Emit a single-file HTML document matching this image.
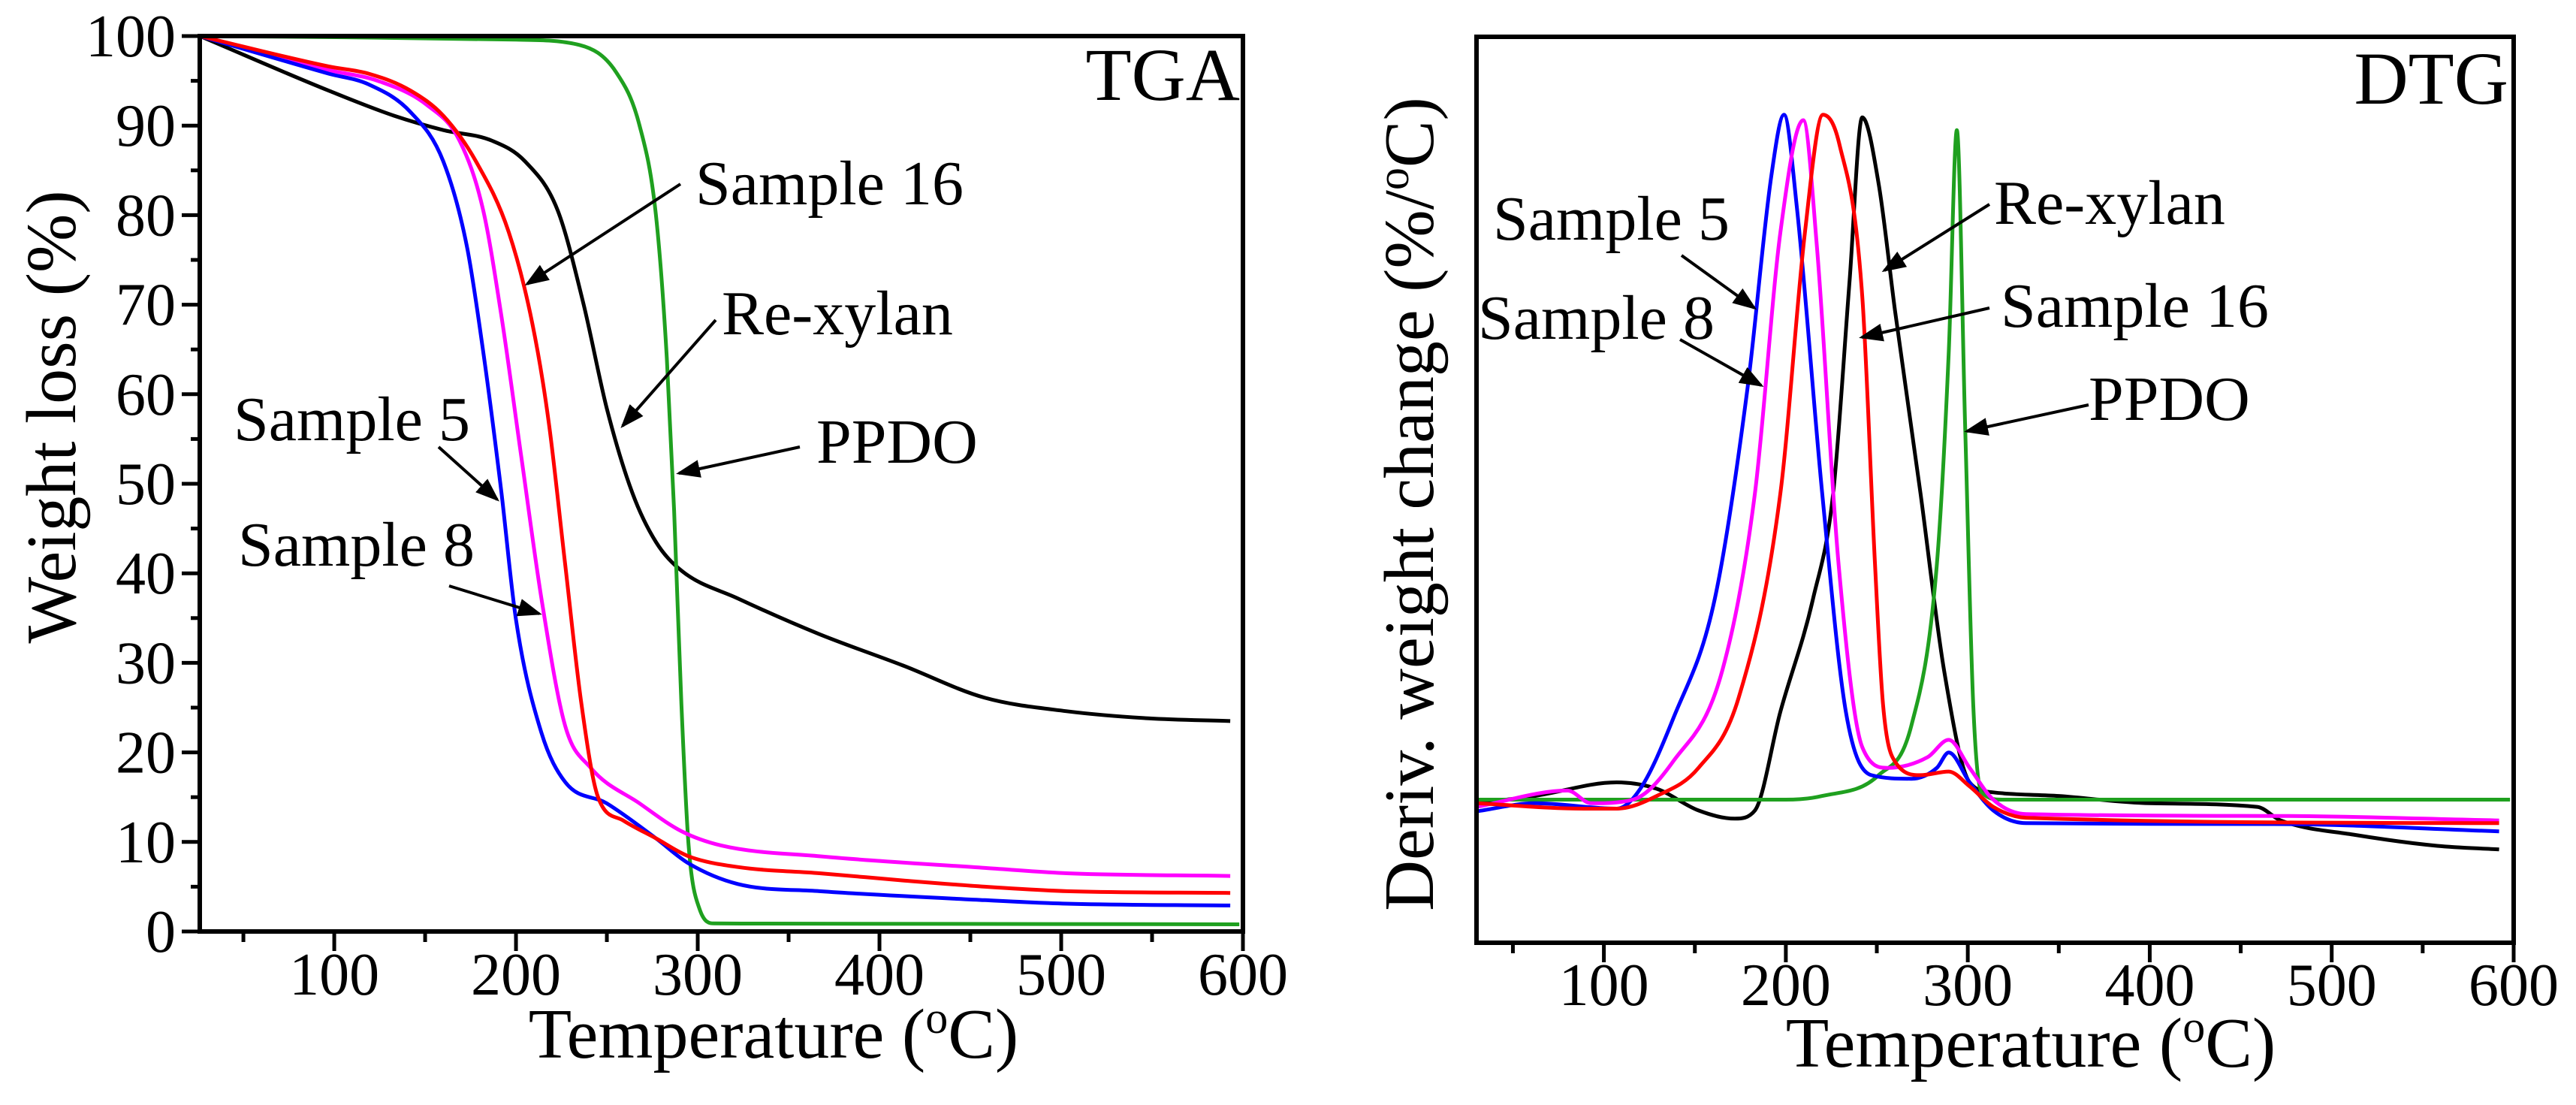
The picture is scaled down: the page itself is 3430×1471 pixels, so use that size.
<!DOCTYPE html>
<html><head><meta charset="utf-8"><style>
html,body{margin:0;padding:0;background:#fff}
svg{display:block}
text{font-family:"Liberation Serif","Times New Roman",serif}
</style></head><body>
<svg id="fig" width="3430" height="1471" viewBox="0 0 3430 1471" xmlns="http://www.w3.org/2000/svg" font-family="Liberation Serif, serif">
<defs><marker id="ah" markerWidth="8" markerHeight="6" refX="7" refY="3" orient="auto" markerUnits="strokeWidth"><path d="M0,0 L8,3 L0,6 Z" fill="#000"/></marker></defs>
<g id="tga"></g>
<g id="dtg"></g>
</svg>
<script>
// ---- TGA data ----
const tgaXTicks=[100,200,300,400,500,600];
const tgaYTicks=[0,10,20,30,40,50,60,70,80,90,100];
const tgaBlackT=[26,97,133,160,187,205,223,237,250,264,277,291,322,367,413,458,503,548,593];
const tgaBlackW=[100,93.9,91.1,89.5,88.3,86,80.5,70.2,58.4,49,43.5,40.3,37.2,33.2,29.7,26.1,24.6,23.8,23.5];
const tgaRedT=[26,97,119,142,160,178,196,209,218,227,236,245,259,277,295,322,367,413,458,503,593];
const tgaRedW=[100,96.6,95.8,93.9,91.1,86,78.1,67.9,56.9,41.1,25.4,15.1,12.4,10.4,8.4,7.2,6.5,5.7,5,4.5,4.3];
const tgaMagT=[26,97,124,151,169,182,192,203,214,227,241,268,291,313,367,458,503,593];
const tgaMagW=[100,96.2,95,92.3,88.3,80.5,68.7,52.9,37.2,23,18.3,14.3,11.2,9.6,8.4,7.1,6.5,6.2];
const tgaBlueT=[26,97,119,142,160,173,182,192,200,214,227,250,277,295,322,367,458,503,593];
const tgaBlueW=[100,95.8,94.6,91.5,86,76.5,64.7,49,34.8,22.2,16.7,14.3,10.4,7.6,5.3,4.5,3.5,3.1,2.9];
const tgaGreenT=[26,200,235,255,268,277,283,287,291,295,301,309,598];
const tgaGreenW=[100,99.6,99,96,90,80,64,47,25.4,9.6,2.5,0.9,0.8];
// ---- DTG data ----
const dtgXTicks=[100,200,300,400,500,600];
const dtgBlackT=[30,62,107,129,152,172,183,197,215,226,235,242,251,260,274,287,301,314,350,400,459,472,513,558,592];
const dtgBlackV=[15.4,16.2,17.7,17,14.6,13.7,14.6,25.5,38,49.6,73,91.1,83.8,69.8,49.6,30,17.7,16.6,16.2,15.4,15,13.5,11.9,10.7,10.3];
const dtgBlueT=[30,62,107,120,138,161,179,192,199,206,220,233,247,269,283,289.5,301,314,332,468,592];
const dtgBlueV=[14.5,15.4,14.8,17,24.7,38,61.3,84.6,91.4,81.3,49.6,25.5,18.5,18.1,19.3,21,17.7,14.6,13.2,13.1,12.3];
const dtgMagT=[30,80,93,116,138,165,183,197,209.6,217,229,242,256,278,289.5,301,314,332,468,592];
const dtgMagV=[15,16.8,15.4,15.8,20,30,49.6,78.4,90.8,77,41.8,21.6,19.3,20.5,22.4,19.3,15.8,14.2,14,13.5];
const dtgRedT=[30,89,107,129,152,174,197,210.5,220.4,229.5,242,249,253.4,260,274,289.5,300.8,314,332,592];
const dtgRedV=[15.4,14.8,14.8,16.2,19.3,27,49.6,78.4,91.4,88.1,71.4,41.8,26.3,20,18.5,18.9,17.3,15,13.8,13.2];
const dtgGreenT=[30,200,220,251,269,283,289.5,294,298.5,303,307.6,319,598];
const dtgGreenV=[15.8,15.8,16.2,18.5,24,41.8,65,89.7,57.4,26.3,16.6,15.8,15.8];

const NS="http://www.w3.org/2000/svg";
function mk(parent,tag,attrs){const e=document.createElementNS(NS,tag);for(const k in attrs)e.setAttribute(k,attrs[k]);parent.appendChild(e);return e;}
function pathD(xs,ys){const n=xs.length;const d=[],m=new Array(n);
 for(let i=0;i<n-1;i++)d.push((ys[i+1]-ys[i])/(xs[i+1]-xs[i]));
 m[0]=d[0];m[n-1]=d[n-2];
 for(let i=1;i<n-1;i++){m[i]=(d[i-1]*d[i]<=0)?0:(d[i-1]+d[i])/2;}
 for(let i=0;i<n-1;i++){if(d[i]===0){m[i]=0;m[i+1]=0;continue;}const a=m[i]/d[i],b=m[i+1]/d[i],s=a*a+b*b;if(s>9){const t=3/Math.sqrt(s);m[i]=t*a*d[i];m[i+1]=t*b*d[i];}}
 let p="M"+xs[0].toFixed(1)+","+ys[0].toFixed(1);
 for(let i=0;i<n-1;i++){const h=(xs[i+1]-xs[i])/3;
  p+=" C"+(xs[i]+h).toFixed(1)+","+(ys[i]+m[i]*h).toFixed(1)+" "+(xs[i+1]-h).toFixed(1)+","+(ys[i+1]-m[i+1]*h).toFixed(1)+" "+xs[i+1].toFixed(1)+","+ys[i+1].toFixed(1);}
 return p;}

// TGA axes
const tg=document.getElementById('tga');
const tX0=266,tX1=1655,tY0=1240,tY1=48,tXmin=26,tXmax=600;
const tx=v=>tX0+(v-tXmin)/(tXmax-tXmin)*(tX1-tX0);
const ty=v=>tY0-(v/100)*(tY0-tY1);
[[tgaBlackT,tgaBlackW,'#000','re-xylan'],[tgaGreenT,tgaGreenW,'#1fa01f','ppdo'],[tgaMagT,tgaMagW,'#ff00ff','sample-8'],[tgaBlueT,tgaBlueW,'#0000ff','sample-5'],[tgaRedT,tgaRedW,'#ff0000','sample-16']].forEach(s=>{
 const l=mk(tg,'path',{d:pathD(s[0].map(tx),s[1].map(ty)),fill:'none',stroke:s[2],'stroke-width':5,'stroke-linejoin':'round'});
 
 
});
const tb=mk(tg,'rect',{x:tX0,y:tY1,width:tX1-tX0,height:tY0-tY1,fill:'none',stroke:'#000','stroke-width':6});


for(let v=50;v<=600;v+=50){const X=tx(v);mk(tg,'line',{x1:X,x2:X,y1:tY0,y2:tY0+(v%100?14:26),stroke:'#000','stroke-width':5});}
tgaXTicks.forEach(v=>{const t=mk(tg,'text',{x:tx(v),y:1324,'font-size':80,'text-anchor':'middle','font-family':'Liberation Serif, serif'});t.textContent=v;
 
 });
for(let v=0;v<=100;v+=5){const Y=ty(v);mk(tg,'line',{x1:tX0,x2:tX0-(v%10?12:24),y1:Y,y2:Y,stroke:'#000','stroke-width':5});}
tgaYTicks.forEach(v=>{const t=mk(tg,'text',{x:234,y:ty(v)+27,'font-size':80,'text-anchor':'end','font-family':'Liberation Serif, serif'});t.textContent=v;
 
 });

// DTG axes
const dg=document.getElementById('dtg');
const dX0=1966,dX1=3347,dY0=1255,dY1=49,dXmin=30,dXmax=600;
const dx=v=>dX0+(v-dXmin)/(dXmax-dXmin)*(dX1-dX0);
const dy=v=>dY0-(v/100)*(dY0-dY1);
[[dtgBlackT,dtgBlackV,'#000','re-xylan'],[dtgGreenT,dtgGreenV,'#1fa01f','ppdo'],[dtgBlueT,dtgBlueV,'#0000ff','sample-5'],[dtgMagT,dtgMagV,'#ff00ff','sample-8'],[dtgRedT,dtgRedV,'#ff0000','sample-16']].forEach(s=>{
 const l=mk(dg,'path',{d:pathD(s[0].map(dx),s[1].map(dy)),fill:'none',stroke:s[2],'stroke-width':5,'stroke-linejoin':'round'});
 
 
});
const db=mk(dg,'rect',{x:dX0,y:dY1,width:dX1-dX0,height:dY0-dY1,fill:'none',stroke:'#000','stroke-width':6});


for(let v=50;v<=600;v+=50){const X=dx(v);mk(dg,'line',{x1:X,x2:X,y1:dY0,y2:dY0+(v%100?14:26),stroke:'#000','stroke-width':5});}
dtgXTicks.forEach(v=>{const t=mk(dg,'text',{x:dx(v),y:1338,'font-size':80,'text-anchor':'middle','font-family':'Liberation Serif, serif'});t.textContent=v;
 
 });
</script>
<script>
const svg=document.getElementById('fig');
function txt(x,y,s,str,name,extra){const t=document.createElementNS(NS,'text');t.setAttribute('x',x);t.setAttribute('y',y);t.setAttribute('font-size',s);
 t.setAttribute('font-family','Liberation Serif, serif');
 if(extra)for(const k in extra)t.setAttribute(k,extra[k]);t.innerHTML=str;
 
 
 svg.appendChild(t);return t;}
function arr(x1,y1,x2,y2,name){const l=document.createElementNS(NS,'line');
 l.setAttribute('x1',x1);l.setAttribute('y1',y1);l.setAttribute('x2',x2);l.setAttribute('y2',y2);
 l.setAttribute('stroke','#000');l.setAttribute('stroke-width',4);l.setAttribute('marker-end','url(#ah)');
 
 
 svg.appendChild(l);}
const AF=84;
// TGA labels
txt(1651,133,100,'TGA','tga-panel-label',{'text-anchor':'end'});
txt(926,272,AF,'Sample 16','tga-label-sample-16');arr(906,245,702,378,'tga-arrow-sample-16');
txt(961,445,AF,'Re-xylan','tga-label-re-xylan');arr(953,426,829,567,'tga-arrow-re-xylan');
txt(1087,616,AF,'PPDO','tga-label-ppdo');arr(1065,595,904,630,'tga-arrow-ppdo');
txt(311,586,AF,'Sample 5','tga-label-sample-5');arr(584,595,662,665,'tga-arrow-sample-5');
txt(317,753,AF,'Sample 8','tga-label-sample-8');arr(598,780,718,817,'tga-arrow-sample-8');
txt(1030,1408,94,'Temperature (<tspan baseline-shift="super" font-size="60">o</tspan>C)','tga-x-axis-title',{'text-anchor':'middle'});
txt(0,0,94,'Weight loss (%)','tga-y-axis-title',{'text-anchor':'middle',transform:'translate(100,555) rotate(-90)'});
// DTG labels
txt(3340,138,100,'DTG','dtg-panel-label',{'text-anchor':'end'});
txt(2655,298,AF,'Re-xylan','dtg-label-re-xylan');arr(2649,272,2509,360,'dtg-arrow-re-xylan');
txt(2664,435,AF,'Sample 16','dtg-label-sample-16');arr(2649,410,2479,449,'dtg-arrow-sample-16');
txt(2781,559,AF,'PPDO','dtg-label-ppdo');arr(2781,539,2619,574,'dtg-arrow-ppdo');
txt(1988,319,AF,'Sample 5','dtg-label-sample-5');arr(2239,340,2336,410,'dtg-arrow-sample-5');
txt(1968,451,AF,'Sample 8','dtg-label-sample-8');arr(2237,452,2345,513,'dtg-arrow-sample-8');
txt(2704,1420,94,'Temperature (<tspan baseline-shift="super" font-size="60">o</tspan>C)','dtg-x-axis-title',{'text-anchor':'middle'});
txt(0,0,94,'Deriv. weight change (%/<tspan baseline-shift="super" font-size="60">o</tspan>C)','dtg-y-axis-title',{'text-anchor':'middle',transform:'translate(1908,671) rotate(-90)'});
</script>
</body></html>
